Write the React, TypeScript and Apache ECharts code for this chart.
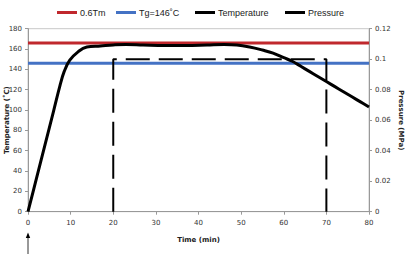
import React, { useEffect, useRef } from "react";
import * as echarts from "echarts";

// Temperature profile (min, °C)
const timeMin = [0, 2, 4, 6, 7.5, 8.5, 9.8, 11.8, 13.8, 17, 20, 23, 27, 32, 37, 42, 46, 49, 52, 55, 57.5, 60, 62, 64, 66, 68, 70, 72, 74, 76, 78, 80];
const tempC = [0, 33, 66, 99, 124, 138, 149, 157.5, 162, 163, 164, 164.5, 164, 163.5, 163.5, 164, 164.5, 164, 162, 159, 156, 151.5, 148, 143, 138, 133, 128, 123, 118, 113, 108, 103];

// Applied pressure (min, MPa)
const pressTime = [20, 20, 70, 70];
const pressMPa = [0, 0.1, 0.1, 0];

// Reference levels (°C)
const tmLevel = 166;
const tgLevel = 146;

const seriesNames = ["0.6Tm", "Tg=146\u02daC", "Temperature", "Pressure"];
const seriesColors = ["#c0282d", "#4472c4", "#000000", "#000000"];
const legendLeft = [52, 111, 190, 280];

export default function App() {
  const ref = useRef<HTMLDivElement>(null);

  useEffect(() => {
    if (!ref.current) return;
    const chart = echarts.init(ref.current, null, { renderer: "svg" });
    const axisFont = { fontFamily: "DejaVu Sans", fontSize: 7, color: "#333" };
    const nameFont = { fontFamily: "DejaVu Sans", fontSize: 7, fontWeight: "bold" as const, color: "#222" };

    const tempData = timeMin.map((t, i) => [t, tempC[i]]);
    const pressData = pressTime.map((t, i) => [t, pressMPa[i]]);

    chart.setOption({
      animation: false,
      legend: seriesNames.map((name, i) => ({
        data: [name],
        left: legendLeft[i],
        top: 3,
        icon: "rect",
        itemWidth: 20,
        itemHeight: 3,
        itemGap: 3,
        itemStyle: { color: seriesColors[i] },
        textStyle: { fontFamily: "Liberation Sans", fontSize: 9, color: "#222", padding: [0, 0, 0, -2] },
        selectedMode: false,
      })),
      grid: {
        left: 28,
        right: 38,
        top: 28.7,
        bottom: 42.3,
        outerBoundsMode: "none",
        containLabel: false,
        show: true,
        borderColor: "#c8c8c8",
        borderWidth: 1,
      },
      xAxis: {
        type: "value",
        min: 0,
        max: 80,
        interval: 10,
        name: "Time (min)",
        nameLocation: "middle",
        nameGap: 25,
        nameMoveOverlap: false,
        nameTextStyle: nameFont,
        axisLine: { show: true, lineStyle: { color: "#999" } },
        axisTick: { show: true, length: 3, lineStyle: { color: "#999" } },
        axisLabel: { ...axisFont, margin: 8 },
        splitLine: { show: false },
      },
      yAxis: [
        {
          type: "value",
          min: 0,
          max: 180,
          interval: 20,
          name: "Temperature (\u02daC)",
          nameLocation: "middle",
          nameGap: 18,
          nameMoveOverlap: false,
          nameTextStyle: nameFont,
          axisLine: { show: true, lineStyle: { color: "#999" } },
          axisTick: { show: true, length: 3, lineStyle: { color: "#999" } },
          axisLabel: { ...axisFont, margin: 6 },
          splitLine: { show: false },
        },
        {
          type: "value",
          min: 0,
          max: 0.12,
          interval: 0.02,
          name: "Pressure (MPa)",
          nameLocation: "middle",
          nameGap: 28,
          nameRotate: 270,
          nameMoveOverlap: false,
          nameTextStyle: nameFont,
          axisLine: { show: true, lineStyle: { color: "#999" } },
          axisTick: { show: true, length: 3, lineStyle: { color: "#999" } },
          axisLabel: { ...axisFont, margin: 6 },
          splitLine: { show: false },
        },
      ],
      series: [
        {
          name: seriesNames[0],
          type: "line",
          symbol: "none",
          data: [[0, tmLevel], [80, tmLevel]],
          lineStyle: { color: seriesColors[0], width: 3 },
          itemStyle: { color: seriesColors[0] },
          z: 2,
        },
        {
          name: seriesNames[1],
          type: "line",
          symbol: "none",
          data: [[0, tgLevel], [80, tgLevel]],
          lineStyle: { color: seriesColors[1], width: 3 },
          itemStyle: { color: seriesColors[1] },
          z: 2,
        },
        {
          name: seriesNames[2],
          type: "line",
          symbol: "none",
          smooth: 0.4,
          data: tempData,
          lineStyle: { color: seriesColors[2], width: 3 },
          itemStyle: { color: seriesColors[2] },
          z: 4,
        },
        {
          name: seriesNames[3],
          type: "line",
          symbol: "none",
          yAxisIndex: 1,
          data: pressData,
          lineStyle: { color: seriesColors[3], width: 2, type: [24, 9] },
          itemStyle: { color: seriesColors[3] },
          z: 3,
        },
      ],
      graphic: [
        {
          type: "line",
          shape: { x1: 28, y1: 237, x2: 28, y2: 254 },
          style: { stroke: "#333", lineWidth: 1 },
        },
        {
          type: "polygon",
          shape: { points: [[28, 232.5], [25.8, 238], [30.2, 238]] },
          style: { fill: "#000" },
        },
      ],
    });
    return () => chart.dispose();
  }, []);

  return (
    <div
      ref={ref}
      style={{ position: "fixed", left: 0, top: 0, width: 407, height: 254, background: "#fff" }}
    />
  );
}
